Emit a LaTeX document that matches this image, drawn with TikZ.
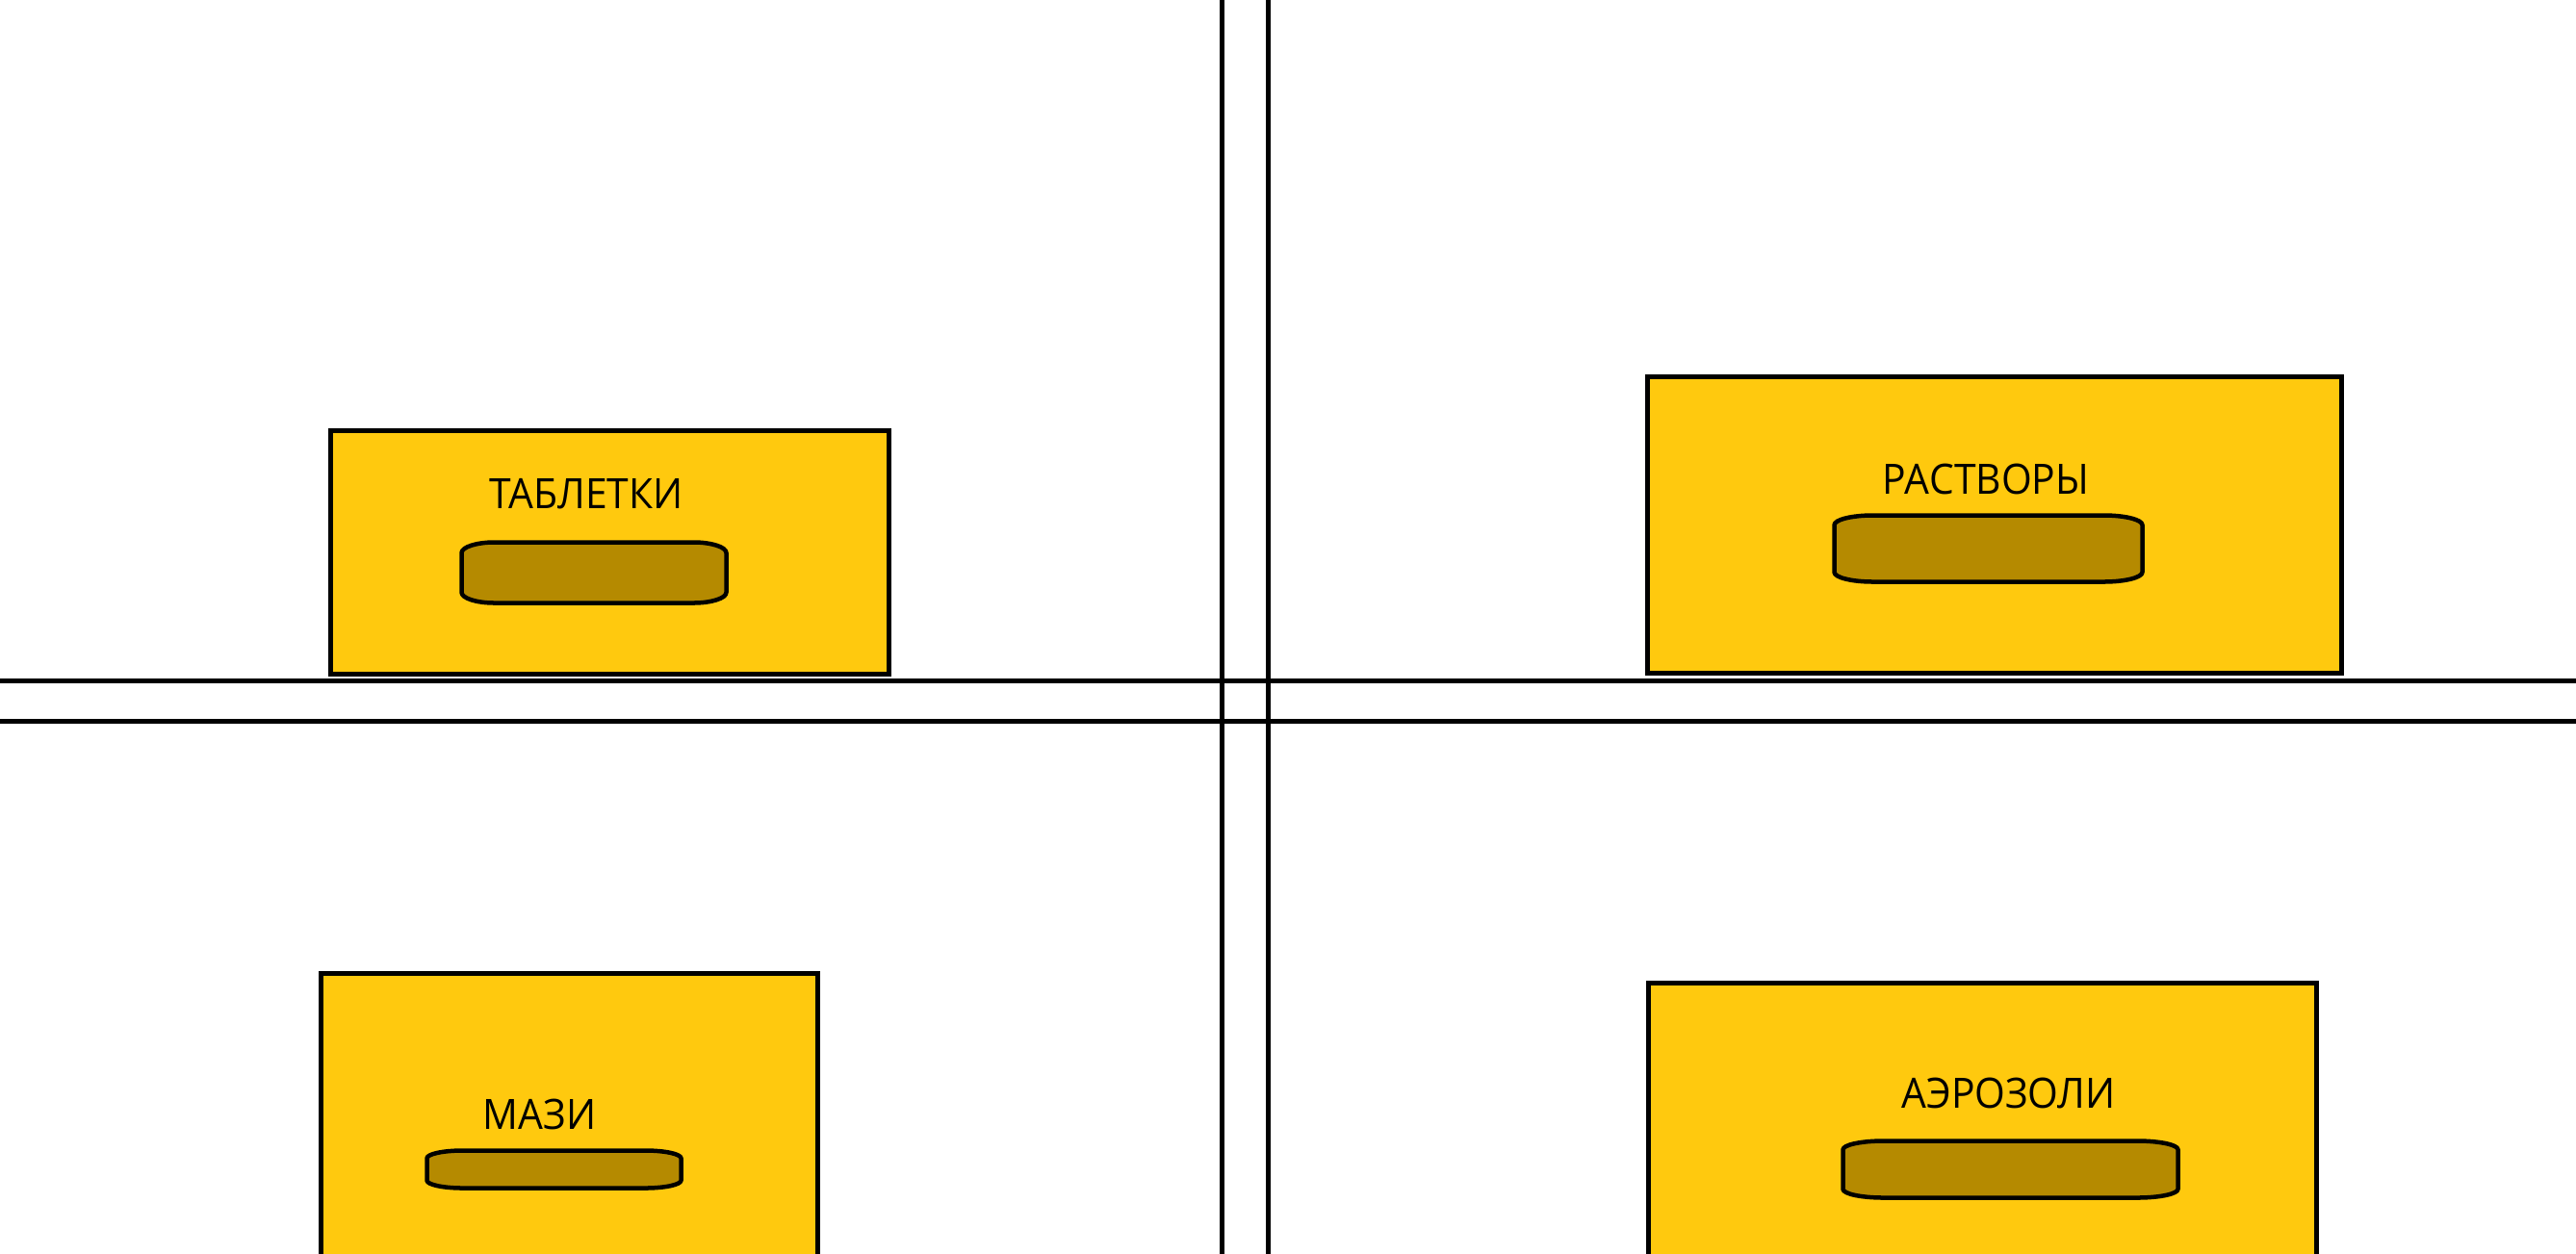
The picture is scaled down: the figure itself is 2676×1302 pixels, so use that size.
\documentclass[tikz,border=0pt]{standalone}
\usepackage{fontspec}
\setmainfont{Open Sans}[FakeStretch=0.94]
\definecolor{boxyellow}{HTML}{FFC90E}
\definecolor{handlebrown}{HTML}{B58A00}
% #1 name, #2 x1, #3 y1, #4 x2, #5 y2, #6 rx, #7 ry
\newcommand\drawhandle[7]{%
  \draw[handlestyle] (#2,{#3+#7}) .. controls (#2,{#3+0.45*#7}) and ({#2+0.45*#6},#3) .. ({#2+#6},#3)
    -- ({#4-#6},#3) .. controls ({#4-0.45*#6},#3) and (#4,{#3+0.45*#7}) .. (#4,{#3+#7})
    -- (#4,{#5-#7}) .. controls (#4,{#5-0.45*#7}) and ({#4-0.45*#6},#5) .. ({#4-#6},#5)
    -- ({#2+#6},#5) .. controls ({#2+0.45*#6},#5) and (#2,{#5-0.45*#7}) .. (#2,{#5-#7}) -- cycle;
  \coordinate (#1) at ({(#2+#4)/2},{(#3+#5)/2});}
\tikzset{
  drawer/.style={draw=black, fill=boxyellow, line width=0.05cm},
  handlestyle/.style={draw=black, fill=handlebrown, line width=0.045cm, line join=round},
  divider/.style={draw=black, line width=0.05cm},
  lbl/.style={anchor=base, inner sep=0pt, font=\fontsize{12.35pt}{15pt}\selectfont}
}
\begin{document}
\begin{tikzpicture}[x=0.01cm, y=-0.01cm]
\useasboundingbox (0,0) rectangle (2676,1302);
\clip (0,0) rectangle (2676,1302);
\fill[white] (0,0) rectangle (2676,1302);
% drawers
\draw[drawer] (343.5,447.5) rectangle (923.5,700.5) coordinate (tabBox);
\draw[drawer] (1711.5,391.5) rectangle (2432.5,699.5) coordinate (rasBox);
\draw[drawer] (333.5,1011.5) rectangle (849.5,1330) coordinate (mazBox);
\draw[drawer] (1712.5,1021.5) rectangle (2406.5,1330) coordinate (aerBox);
% handles
\drawhandle{tabH}{479.5}{563.5}{754.5}{626.5}{34}{11}
\drawhandle{rasH}{1905.5}{535.5}{2225.5}{604.5}{40}{10}
\drawhandle{mazH}{443.5}{1195.5}{707.5}{1234.5}{37}{8}
\drawhandle{aerH}{1914.5}{1185.5}{2262.5}{1244.5}{42}{9}
% labels
\node[lbl] (tabL) at (609,528) {ТАБЛЕТКИ};
\node[lbl] (rasL) at (2063,513.5) {РАСТВОРЫ};
\node[lbl] (mazL) at (560.5,1173) {МАЗИ};
\node[lbl] (aerL) at (2086.5,1151) {АЭРОЗОЛИ};
% dividers
\coordinate (v1t) at (1269.5,-10); \coordinate (v1b) at (1269.5,1320);
\coordinate (v2t) at (1317.5,-10); \coordinate (v2b) at (1317.5,1320);
\coordinate (h1l) at (-10,707.5); \coordinate (h1r) at (2690,707.5);
\coordinate (h2l) at (-10,749.5); \coordinate (h2r) at (2690,749.5);
\draw[divider] (v1t) -- (v1b);
\draw[divider] (v2t) -- (v2b);
\draw[divider] (h1l) -- (h1r);
\draw[divider] (h2l) -- (h2r);
\end{tikzpicture}
\end{document}
